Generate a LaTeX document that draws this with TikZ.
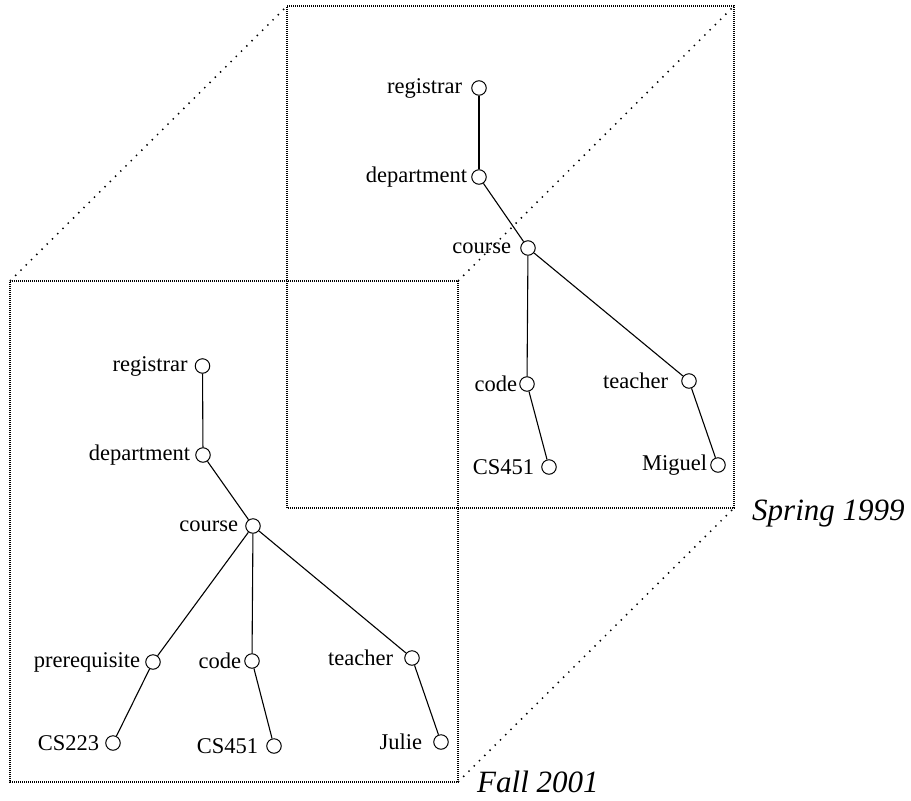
\documentclass[tikz,border=0pt]{standalone}
\usepackage{fontspec}
\setmainfont{Liberation Serif}
\begin{document}
\begin{tikzpicture}[x=1pt,y=-1pt,
  dot/.style={circle,draw=black,line width=1pt,minimum size=14.5pt,inner sep=0pt},
  lbl/.style={inner sep=0pt,font=\fontsize{22.5}{24}\selectfont},
  edge/.style={draw=black,line width=1.1pt},
  boxline/.style={draw=black,line width=1.2pt,dash pattern=on 1pt off 1pt},
  diag/.style={draw=black,line width=1.5pt,dash pattern=on 1.4pt off 6pt},
  season/.style={inner sep=0pt,font=\fontsize{31}{33}\selectfont\itshape}]
\useasboundingbox (0,0) rectangle (911,801);
% corners
\coordinate (fTL) at (10,281);
\coordinate (fTR) at (458,281);
\coordinate (fBR) at (458,782);
\coordinate (fBL) at (10,782);
\coordinate (bTL) at (287,6);
\coordinate (bTR) at (734,6);
\coordinate (bBR) at (734,508);
\coordinate (bBL) at (287,508);
% boxes
\draw[boxline] (bTL) -- (bTR) -- (bBR) -- (bBL) -- cycle;
\draw[boxline] (fTL) -- (fTR) -- (fBR) -- (fBL) -- cycle;
% diagonals
\draw[diag] (fTL) -- (bTL);
\draw[diag] (fTR) -- (bTR);
\draw[diag] (fBR) -- (bBR);
% back tree
\node[dot,label={[lbl,label distance=9pt]left:registrar}] (br) at (479,88) {};
\node[dot,label={[lbl,label distance=4pt]left:department}] (bd) at (479,177) {};
\node[dot,label={[lbl,label distance=9pt]left:course}] (bc) at (528,248) {};
\node[dot,label={[lbl,label distance=2pt]left:code}] (bco) at (527,384) {};
\node[dot,label={[lbl,label distance=13pt]left:teacher}] (bt) at (689,381) {};
\node[dot,label={[lbl,label distance=7pt]left:CS451}] (b451) at (549,467) {};
\node[dot,label={[lbl,label distance=3pt]left:Miguel}] (bm) at (718,465) {};
\draw[edge] (br) -- (bd);
\draw[edge] (bd) -- (bc);
\draw[edge] (bc) -- (bco);
\draw[edge] (bc) -- (bt);
\draw[edge] (bco) -- (b451);
\draw[edge] (bt) -- (bm);
% front tree
\node[dot,label={[lbl,label distance=7pt]left:registrar}] (fr) at (202.5,366) {};
\node[dot,label={[lbl,label distance=5pt]left:department}] (fd) at (203,455) {};
\node[dot,label={[lbl,label distance=7pt]left:course}] (fc) at (253,526) {};
\node[dot,label={[lbl,label distance=5pt]left:prerequisite}] (fp) at (153,662) {};
\node[dot,label={[lbl,label distance=3pt]left:code}] (fco) at (252,661) {};
\node[dot,label={[lbl,label distance=11pt]left:teacher}] (ft) at (412,658) {};
\node[dot,label={[lbl,label distance=6pt]left:CS223}] (f223) at (113,743) {};
\node[dot,label={[lbl,label distance=8pt]left:CS451}] (f451) at (274,746) {};
\node[dot,label={[lbl,label distance=11pt]left:Julie}] (fj) at (441,742) {};
\draw[edge] (fr) -- (fd);
\draw[edge] (fd) -- (fc);
\draw[edge] (fc) -- (fp);
\draw[edge] (fc) -- (fco);
\draw[edge] (fc) -- (ft);
\draw[edge] (fp) -- (f223);
\draw[edge] (fco) -- (f451);
\draw[edge] (ft) -- (fj);
% season labels
\node[season,anchor=base west] (spring) at (752,520) {Spring 1999};
\node[season,anchor=base west] (fall) at (477,792) {Fall 2001};
\end{tikzpicture}
\end{document}
